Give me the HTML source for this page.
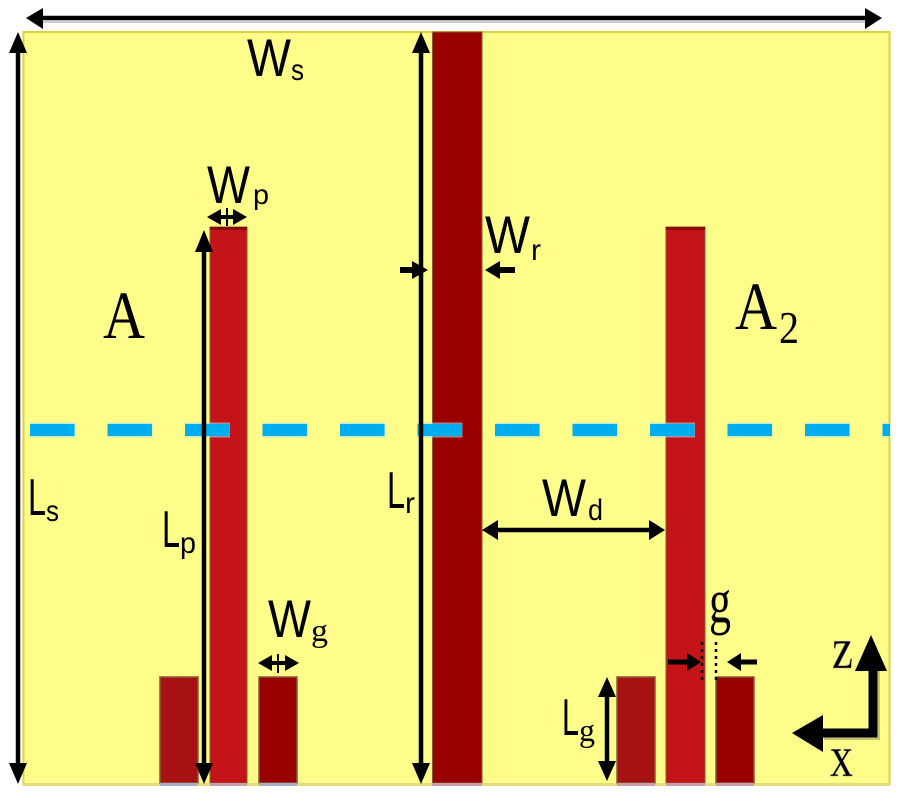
<!DOCTYPE html>
<html><head><meta charset="utf-8"><style>
html,body{margin:0;padding:0;background:#fff;}
svg{display:block;}
.s{font-family:"Liberation Sans",sans-serif;fill:#000;}
.r{font-family:"Liberation Serif",serif;fill:#000;}
</style></head><body>
<svg width="900" height="800" viewBox="0 0 900 800" xmlns="http://www.w3.org/2000/svg">
<rect x="0" y="0" width="900" height="800" fill="#fff"/>
<!-- substrate -->
<rect x="23.5" y="32" width="866" height="752" fill="#FFFD8A" stroke="#DCD23C" stroke-width="2"/>
<rect x="23" y="783" width="867" height="3" fill="#E3DC7A"/>
<!-- central resonator -->
<rect x="432.5" y="32" width="49.5" height="751" fill="#990000" stroke="#8A5A30" stroke-width="1"/>
<!-- patches -->
<rect x="210" y="227" width="37" height="556" fill="#C41418" stroke="#8A5A30" stroke-width="1"/>
<rect x="210" y="227" width="37" height="3" fill="#8B0A0A"/>
<rect x="666" y="227" width="39" height="556" fill="#C41418" stroke="#8A5A30" stroke-width="1"/>
<rect x="666" y="227" width="39" height="3" fill="#8B0A0A"/>
<!-- ground strips -->
<rect x="160" y="677" width="38" height="106" fill="#A81214" stroke="#8A5A30" stroke-width="1.5"/>
<rect x="259" y="677" width="38" height="106" fill="#990000" stroke="#8A5A30" stroke-width="1.5"/>
<rect x="617" y="677" width="38" height="106" fill="#A81214" stroke="#8A5A30" stroke-width="1.5"/>
<rect x="716" y="677" width="38" height="106" fill="#990000" stroke="#8A5A30" stroke-width="1.5"/>
<rect x="160" y="783" width="38" height="3" fill="#A8AEC8"/>
<rect x="259" y="783" width="38" height="3" fill="#A8AEC8"/>
<rect x="210" y="783" width="37" height="3" fill="#C8A0A8"/>
<rect x="432" y="783" width="50" height="3" fill="#C8A0A8"/>
<rect x="617" y="783" width="38" height="3" fill="#C8A0A8"/>
<rect x="666" y="783" width="39" height="3" fill="#C8A0A8"/>
<rect x="716" y="783" width="38" height="3" fill="#C8A0A8"/>

<!-- dashed line -->
<line x1="30" y1="430" x2="890" y2="430" stroke="#9FE0F0" stroke-width="15" stroke-dasharray="45 32.5" opacity="0.6"/>
<line x1="30" y1="430" x2="890" y2="430" stroke="#00AEEF" stroke-width="12" stroke-dasharray="44.5 33"/>

<!-- top Ws arrow -->
<line x1="38" y1="18" x2="870" y2="18" stroke="#000" stroke-width="4.5"/>
<line x1="38" y1="22" x2="870" y2="22" stroke="#ccc" stroke-width="2"/>
<polygon points="26,18 43,8 43,29" fill="#000"/>
<polygon points="882,18 865,8 865,29" fill="#000"/>

<!-- Ls arrow -->
<line x1="18" y1="48" x2="18" y2="767" stroke="#000" stroke-width="4.5"/>
<polygon points="18,32 9,53 27,53" fill="#000"/>
<polygon points="18,784 9,763 27,763" fill="#000"/>

<!-- Lr arrow -->
<line x1="421" y1="48" x2="421" y2="767" stroke="#000" stroke-width="4.5"/>
<polygon points="421,32 412,53 430,53" fill="#000"/>
<polygon points="421,784 412,763 430,763" fill="#000"/>

<!-- Lp arrow -->
<line x1="204" y1="246" x2="204" y2="767" stroke="#000" stroke-width="4.5"/>
<polygon points="204,230 195,252 213,252" fill="#000"/>
<polygon points="204,784 195,763 213,763" fill="#000"/>

<!-- Wr arrows -->
<line x1="400" y1="270" x2="414" y2="270" stroke="#000" stroke-width="6"/>
<polygon points="428,270 412,261 412,279" fill="#000"/>
<line x1="498" y1="270" x2="515" y2="270" stroke="#000" stroke-width="6"/>
<polygon points="485,270 500,261 500,279" fill="#000"/>

<!-- Wp arrow -->
<line x1="215" y1="217" x2="240" y2="217" stroke="#000" stroke-width="4"/>
<polygon points="207,217 221,209 221,225" fill="#000"/>
<polygon points="247,217 233,209 233,225" fill="#000"/>
<line x1="227" y1="208" x2="227" y2="226" stroke="#000" stroke-width="2"/>

<!-- Wg arrow -->
<line x1="266" y1="663" x2="292" y2="663" stroke="#000" stroke-width="4"/>
<polygon points="258,663 272,655 272,671" fill="#000"/>
<polygon points="299,663 285,655 285,671" fill="#000"/>
<line x1="278" y1="654" x2="278" y2="673" stroke="#000" stroke-width="2"/>

<!-- Wd arrow -->
<line x1="492" y1="530" x2="655" y2="530" stroke="#000" stroke-width="4.5"/>
<polygon points="482,530 498,520 498,540" fill="#000"/>
<polygon points="665,530 649,520 649,540" fill="#000"/>

<!-- g arrows + dotted -->
<line x1="668" y1="662" x2="690" y2="662" stroke="#000" stroke-width="5"/>
<polygon points="701,662 687,653 687,671" fill="#000"/>
<line x1="740" y1="662" x2="757" y2="662" stroke="#000" stroke-width="5"/>
<polygon points="727,662 741,653 741,671" fill="#000"/>
<line x1="702" y1="642" x2="702" y2="680" stroke="#000" stroke-width="2.5" stroke-dasharray="3 4"/>
<line x1="716" y1="642" x2="716" y2="680" stroke="#000" stroke-width="2.5" stroke-dasharray="3 4"/>

<!-- Lg arrow -->
<line x1="607" y1="690" x2="607" y2="768" stroke="#000" stroke-width="4.5"/>
<polygon points="607,677 598,697 616,697" fill="#000"/>
<polygon points="607,781 598,761 616,761" fill="#000"/>

<!-- axes -->
<polyline points="873,665 873,733 822,733" fill="none" stroke="#555" stroke-width="10" opacity="0.35" transform="translate(2,2)"/>
<polyline points="873,665 873,733 822,733" fill="none" stroke="#000" stroke-width="9"/>
<polygon points="871,635 855,671 887,671" fill="#000"/>
<polygon points="792,733 823,715 823,752" fill="#000"/>

<!-- labels -->
<text class="s" x="247" y="76" font-size="53" textLength="44" lengthAdjust="spacingAndGlyphs">W</text>
<text class="s" x="291" y="80" font-size="30" textLength="13" lengthAdjust="spacingAndGlyphs">s</text>

<text class="s" x="207" y="203" font-size="53" textLength="43" lengthAdjust="spacingAndGlyphs">W</text>
<text class="s" x="253" y="204" font-size="28" textLength="16" lengthAdjust="spacingAndGlyphs">p</text>

<text class="s" x="485" y="253" font-size="53" textLength="45" lengthAdjust="spacingAndGlyphs">W</text>
<text class="s" x="531" y="260" font-size="30" textLength="10" lengthAdjust="spacingAndGlyphs">r</text>

<text class="s" x="542" y="516" font-size="53" textLength="44" lengthAdjust="spacingAndGlyphs">W</text>
<text class="s" x="588" y="520" font-size="30" textLength="15" lengthAdjust="spacingAndGlyphs">d</text>

<text class="s" x="268" y="637" font-size="53" textLength="43" lengthAdjust="spacingAndGlyphs">W</text>
<text class="r" x="311" y="641" font-size="32" textLength="17" lengthAdjust="spacingAndGlyphs">g</text>

<text class="s" x="28" y="515" font-size="52" textLength="18" lengthAdjust="spacingAndGlyphs">L</text>
<text class="s" x="46" y="521" font-size="30" textLength="13" lengthAdjust="spacingAndGlyphs">s</text>

<text class="s" x="162" y="547" font-size="52" textLength="18" lengthAdjust="spacingAndGlyphs">L</text>
<text class="s" x="180" y="553" font-size="30" textLength="16" lengthAdjust="spacingAndGlyphs">p</text>

<text class="s" x="387" y="508" font-size="52" textLength="18" lengthAdjust="spacingAndGlyphs">L</text>
<text class="s" x="405" y="513" font-size="30" textLength="10" lengthAdjust="spacingAndGlyphs">r</text>

<text class="s" x="562" y="735" font-size="52" textLength="17" lengthAdjust="spacingAndGlyphs">L</text>
<text class="r" x="579" y="741" font-size="32" textLength="16" lengthAdjust="spacingAndGlyphs">g</text>

<text class="r" x="103" y="338" font-size="68" textLength="42" lengthAdjust="spacingAndGlyphs">A</text>
<text class="r" x="735" y="329" font-size="68" textLength="42" lengthAdjust="spacingAndGlyphs">A</text>
<text class="r" x="779" y="343" font-size="46" textLength="20" lengthAdjust="spacingAndGlyphs">2</text>

<text class="r" x="709" y="622" font-size="62" textLength="22" lengthAdjust="spacingAndGlyphs">g</text>

<text class="r" x="832" y="668" font-size="58" textLength="21" lengthAdjust="spacingAndGlyphs" fill="#000" style="fill:#000" stroke="#999" stroke-width="0.5">z</text>
<text class="r" x="830" y="776" font-size="58" textLength="23" lengthAdjust="spacingAndGlyphs" stroke="#999" stroke-width="0.5">x</text>
</svg>
</body></html>
